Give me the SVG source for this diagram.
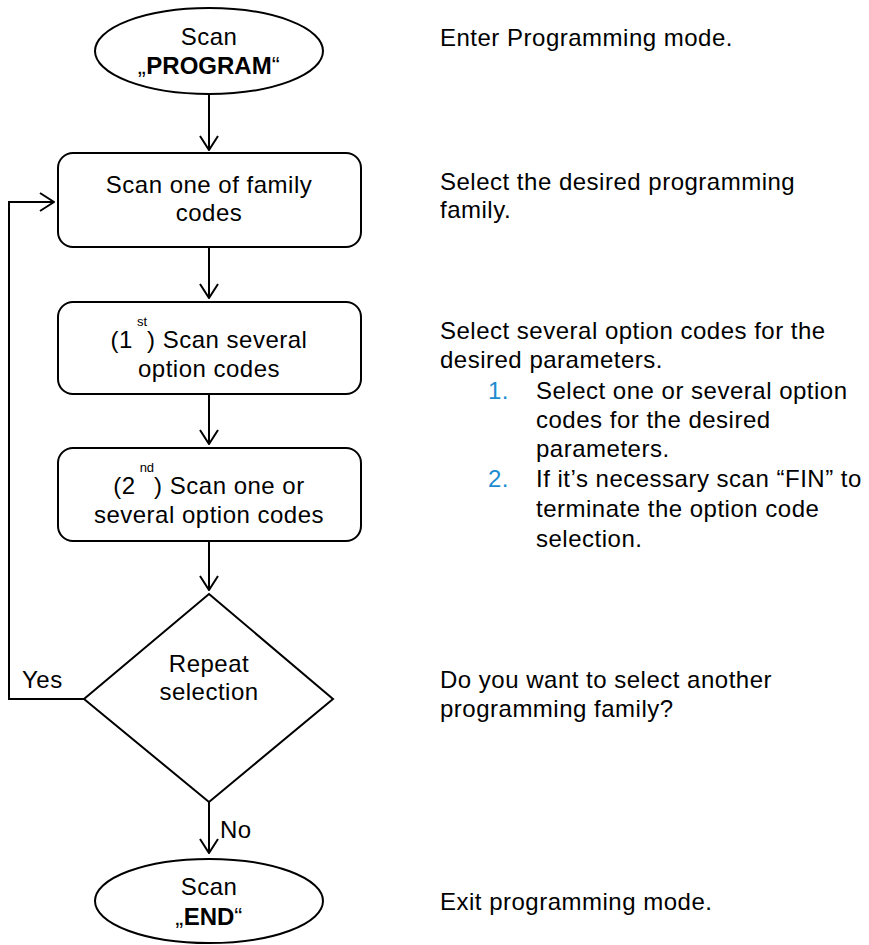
<svg xmlns="http://www.w3.org/2000/svg" width="869" height="945" viewBox="0 0 869 945">
<style>
.s{fill:#fff;stroke:#000;stroke-width:2}
.t{font-family:"Liberation Sans",Arial,sans-serif;font-size:24px;letter-spacing:0.5px;fill:#000}
.c{text-anchor:middle}
.b{font-weight:bold;letter-spacing:0}
.sup{font-size:13px;letter-spacing:0}
.n{fill:#1c8cd0}
.ln{fill:none;stroke:#000;stroke-width:2}
</style>
<defs>
<marker id="ah" viewBox="0 0 16 20" refX="15" refY="10" markerWidth="16" markerHeight="20" markerUnits="userSpaceOnUse" orient="auto">
<path d="M1,1 L15,10 L1,19" fill="none" stroke="#000" stroke-width="2"/>
</marker>
</defs>
<g id="connectors">
<line class="ln" x1="209" y1="95" x2="209" y2="150" marker-end="url(#ah)"/>
<line class="ln" x1="209" y1="247" x2="209" y2="298" marker-end="url(#ah)"/>
<line class="ln" x1="209" y1="394" x2="209" y2="444" marker-end="url(#ah)"/>
<line class="ln" x1="209" y1="541" x2="209" y2="590" marker-end="url(#ah)"/>
<polyline class="ln" points="84,699 9,699 9,202 54,202" marker-end="url(#ah)"/>
<line class="ln" x1="209" y1="802" x2="209" y2="853" marker-end="url(#ah)"/>
<text class="t" x="22" y="688">Yes</text>
<text class="t" x="220" y="838">No</text>
</g>
<g id="start">
<ellipse class="s" cx="209" cy="51" rx="114" ry="43"/>
<text class="t c" x="209" y="45">Scan</text>
<text class="t c" x="209" y="74">„<tspan class="b">PROGRAM</tspan>“</text>
</g>
<g id="family">
<rect class="s" x="58" y="153" width="303" height="94" rx="15"/>
<text class="t c" x="209" y="193">Scan one of family</text>
<text class="t c" x="209" y="221">codes</text>
</g>
<g id="opt1">
<rect class="s" x="58" y="302" width="303" height="92" rx="15"/>
<text class="t c" x="209" y="348">(1<tspan class="sup" dy="-22" dx="4">st</tspan><tspan dy="22">) Scan several</tspan></text>
<text class="t c" x="209" y="377">option codes</text>
</g>
<g id="opt2">
<rect class="s" x="58" y="448" width="303" height="93" rx="15"/>
<text class="t c" x="209" y="494">(2<tspan class="sup" dy="-22" dx="4">nd</tspan><tspan dy="22">) Scan one or</tspan></text>
<text class="t c" x="209" y="523">several option codes</text>
</g>
<g id="decision">
<polygon class="s" points="209,594 333,699 209,802 84,699"/>
<text class="t c" x="209" y="672">Repeat</text>
<text class="t c" x="209" y="700">selection</text>
</g>
<g id="end">
<ellipse class="s" cx="209" cy="901" rx="114" ry="42"/>
<text class="t c" x="209" y="895">Scan</text>
<text class="t c" x="209" y="925">„<tspan class="b">END</tspan>“</text>
</g>
<g id="notes">
<text class="t" x="440" y="46">Enter Programming mode.</text>
<text class="t" x="440" y="190">Select the desired programming</text>
<text class="t" x="440" y="218">family.</text>
<text class="t" x="440" y="339">Select several option codes for the</text>
<text class="t" x="440" y="368">desired parameters.</text>
<text class="t n" x="488" y="399">1.</text>
<text class="t" x="536" y="399">Select one or several option</text>
<text class="t" x="536" y="428">codes for the desired</text>
<text class="t" x="536" y="457">parameters.</text>
<text class="t n" x="488" y="487">2.</text>
<text class="t" x="536" y="487">If it’s necessary scan “FIN” to</text>
<text class="t" x="536" y="517">terminate the option code</text>
<text class="t" x="536" y="547">selection.</text>
<text class="t" x="440" y="688">Do you want to select another</text>
<text class="t" x="440" y="717">programming family?</text>
<text class="t" x="440" y="910">Exit programming mode.</text>
</g>
</svg>
